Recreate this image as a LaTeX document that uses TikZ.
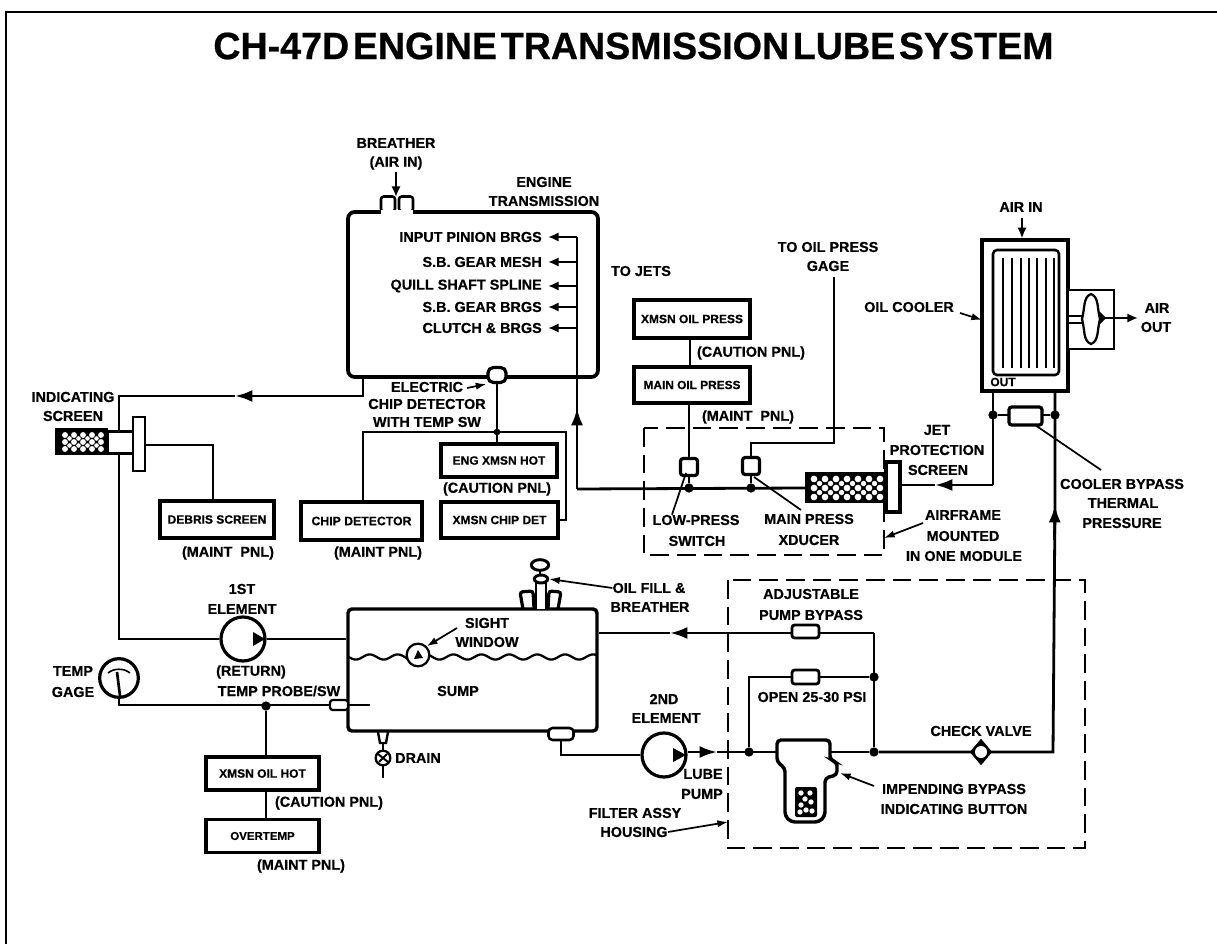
\documentclass[tikz,border=0pt]{standalone}
\usepackage{fontspec}
\setmainfont{Liberation Sans}[BoldFont={Liberation Sans Bold},BoldFeatures={FakeBold=0.5}]
\newfontfamily\titlefont{Liberation Sans Bold}[WordSpace=0.35,FakeBold=0.6]
\usetikzlibrary{arrows.meta,calc,shapes.geometric}
\tikzset{
  wh/.style 2 args={minimum width=#1*0.75pt,minimum height=#2*0.75pt},
  lbl/.style={font=\bfseries\fontsize{10.8}{12}\selectfont,inner sep=0pt,align=center},
  panel/.style={draw=black,line width=2.4pt,fill=white,inner sep=0pt},
  pipe/.style={draw=black,line width=2.1pt},
  thin pipe/.style={draw=black,line width=1.6pt},
  flow/.style={pipe,-{Latex[length=13pt,width=9pt]}},
  small flow/.style={thin pipe,-{Latex[length=8pt,width=7pt]}},
  leader/.style={draw=black,line width=1.3pt,-{Latex[length=8pt,width=5.5pt]}},
  dashbox/.style={draw=black,line width=1.7pt,dash pattern=on 14pt off 6pt},
  junction/.style={circle,fill=black,inner sep=0pt,minimum size=7pt},
  valve/.style={draw=black,line width=2.1pt,fill=white,rounded corners=2pt,inner sep=0pt},
  pumpc/.style={circle,draw=black,line width=2.4pt,fill=white,inner sep=0pt,minimum size=33pt},
}
\begin{document}
\begin{tikzpicture}[x=0.75pt,y=-0.75pt]
\useasboundingbox (0,0) rectangle (1217,944);
% frame
\coordinate (fb) at (6,944);
\coordinate (ft) at (6,12);
\coordinate (fr) at (1217,12);
\draw[draw=black,line width=2pt] (fb) -- (ft) -- (fr);
\node[inner sep=0pt] (title) at (633.5,46) {\scalebox{0.99}[1]{\titlefont\fontsize{28.5}{30}\selectfont CH-47D ENGINE TRANSMISSION LUBE SYSTEM}};

% ---------- engine transmission
\node[draw=black,line width=2.8pt,rounded corners=5pt,wh={250}{165},inner sep=0pt] (trans) at (473,294.5) {};
\node[draw=black,line width=1.9pt,fill=white,rounded corners=2pt,wh={14}{15},inner sep=0pt] (nubL) at (388,204) {};
\node[draw=black,line width=1.9pt,fill=white,rounded corners=2pt,wh={14}{15},inner sep=0pt] (nubR) at (406,204) {};
\fill[white] (381,210) rectangle (413,214);
\draw[thin pipe] (nubL.south west) -- ++(-2,0) (nubR.south east) -- ++(2,0);
\node[lbl] (breather) at (396,143) {BREATHER};
\node[lbl] (airin1) at (396,163) {(AIR IN)};
\coordinate (brin) at (396,172);
\draw[small flow] (brin) -- (396,197);
\node[lbl] (eng) at (544,182) {ENGINE};
\node[lbl] (tra) at (544,201) {TRANSMISSION};
\node[lbl,anchor=east] (l1) at (542,237) {INPUT PINION BRGS};
\node[lbl,anchor=east] (l2) at (542,262) {S.B. GEAR MESH};
\node[lbl,anchor=east] (l3) at (542,286) {QUILL SHAFT SPLINE};
\node[lbl,anchor=east] (l4) at (542,307) {S.B. GEAR BRGS};
\node[lbl,anchor=east] (l5) at (542,328) {CLUTCH \& BRGS};
\coordinate (dtop) at (577,237);
\coordinate (dbot) at (577,489);
\draw[pipe] (dtop) -- (dbot);
\foreach \yy/\n in {237/l1,262/l2,286/l3,307/l4,328/l5}
  \draw[small flow] (577,\yy) -- ([xshift=4.5pt]\n.east);
\coordinate (dup) at (577,408);
\draw[flow] (577,440) -- (dup);
\node[lbl] (tojets) at (641,271) {TO JETS};

% ---------- chip detector
\node[valve,wh={18}{15},rounded corners=4pt,line width=2.4pt] (chip) at (497,375) {};
\coordinate (cj) at (497,432);
\node[panel,wh={114}{37},font=\bfseries\fontsize{9}{9}\selectfont] (debris) at (217,519.5) {DEBRIS SCREEN};
\node[panel,wh={121}{38},font=\bfseries\fontsize{9.2}{9}\selectfont] (chipd) at (361.5,521) {CHIP DETECTOR};
\node[panel,wh={117}{36},font=\bfseries\fontsize{9}{9}\selectfont] (xchip) at (499.5,520) {XMSN CHIP DET};
\node[panel,wh={116}{33},font=\bfseries\fontsize{9}{9}\selectfont] (enghot) at (499,460.5) {ENG XMSN HOT};
\draw[pipe] (chip.south) -- (chip.south |- enghot.north);
\node[junction,minimum size=5pt] (cjd) at (cj) {};
\draw[thin pipe] (chipd.north -| 363,0) |- (566,432) |- (xchip.east);
\node[lbl] (elec) at (427,387) {ELECTRIC};
\node[lbl] (cdt) at (427,404) {CHIP DETECTOR};
\node[lbl] (wts) at (427,422) {WITH TEMP SW};
\draw[leader] (467,388) -- (chip.south west);
\node[lbl] (cp1) at (497,489) {(CAUTION PNL)};
\node[lbl] (mp1) at (228,553) {(MAINT\ \ PNL)};
\node[lbl] (mp2) at (378,553) {(MAINT PNL)};

% ---------- indicating screen
\node[lbl] (ind) at (73,397) {INDICATING};
\node[lbl] (scr) at (73,416) {SCREEN};
\node[draw=black,line width=2.2pt,fill=white,wh={27}{22},inner sep=0pt] (sbody) at (121,442.5) {};
\node[draw=black,line width=2.2pt,fill=white,wh={12}{54},inner sep=0pt] (sflange) at (139,444) {};
\node[fill=black,wh={53}{27},inner sep=0pt] (smesh) at (81.5,441.5) {};
\foreach \cx in {65,74,83,92,101} \foreach \cy in {435,442,449}
  \fill[white] (\cx,\cy) circle[radius=2.2pt];
\foreach \cx in {69.5,78.5,87.5,96.5} \foreach \cy in {438.5,445.5}
  \fill[white] (\cx,\cy) circle[radius=1.7pt];
\coordinate (tbot) at (363,377);
\coordinate (iarr) at (235,396);
\draw[flow] (tbot) |- (iarr);
\draw[pipe] (iarr) -| (sbody.north -| 119,0);
\draw[thin pipe] (sflange.east |- 0,445) -| (debris.north -| 213,0);
\node[pumpc] (pump1) at (243,639) {};
\fill (pump1.center) ++(10,-7) -- ++(12,7) -- ++(-12,7) -- cycle;
\draw[pipe] (sbody.south -| 119,0) |- (pump1.west);

% ---------- sump
\node[draw=black,line width=2.6pt,rounded corners=3pt,wh={249}{122},inner sep=0pt] (sump) at (472.5,670) {};
\draw[pipe] (pump1.east) -- (sump.west |- pump1.east);
\draw[line width=1.7pt,domain=348:597,samples=120,smooth] plot (\x,{657-2.6*sin(\x*12.9)});
\node[lbl] (sumpt) at (458,691) {SUMP};
\node[lbl] (sw1) at (487,623) {SIGHT};
\node[lbl] (sw2) at (487,642) {WINDOW};
\node[circle,draw=black,line width=1.7pt,fill=white,minimum size=17pt,inner sep=0pt] (win) at (418,655) {};
\fill (414,659) -- (418,650) -- (423,658) -- cycle;
\draw[leader] (457,628) -- (win.north east);
% oil fill
\node[ellipse,draw=black,line width=2.2pt,fill=white,minimum width=13pt,minimum height=8pt,inner sep=0pt] (knob) at (540,565) {};
\draw[line width=2pt] (540,569) -- (540,575);
\draw[line width=2.4pt,rounded corners=2pt] (523,609) -- (520,592) -- (533,591) -- (534,609);
\draw[line width=2.4pt,rounded corners=2pt] (548,609) -- (549,591) -- (561,592) -- (558,609);
\draw[line width=2pt,fill=white] (536,609) -- (536,583) -- (546,583) -- (546,609);
\node[ellipse,draw=black,line width=2.2pt,fill=white,minimum width=10pt,minimum height=6pt,inner sep=0pt] (cap) at (541,579) {};
\node[lbl] (of1) at (649,588) {OIL FILL \&};
\node[lbl] (of2) at (650,607) {BREATHER};
\draw[leader] (of1.west) -- (cap.east);
% drain
\node[circle,draw=black,line width=1.7pt,fill=white,minimum size=11pt,inner sep=0pt] (drainv) at (383,758) {};
\draw[line width=1.5pt] (378,754) -- (388,762) (379,762) -- (387,754);
\coordinate (drn) at (383,778);
\draw[line width=1.8pt] (378,732) -- (380,743) -- (386,743) -- (388,732);
\draw[thin pipe] (383,743) -- (drainv.north) (drainv.south) -- (drn);
\node[lbl] (drain) at (418,758) {DRAIN};
% outlet
\node[draw=black,line width=1.9pt,fill=white,rounded corners=3pt,wh={25}{12},inner sep=0pt] (outlet) at (561,734) {};
\node[pumpc] (pump2) at (664,755) {};
\fill (pump2.center) ++(9,-7) -- ++(13,7) -- ++(-13,7) -- cycle;
\draw[pipe] (outlet.south) |- (pump2.west);
\node[lbl] (e1a) at (242,589) {1ST};
\node[lbl] (e1b) at (242,609) {ELEMENT};
\node[lbl] (ret) at (251,672) {(RETURN)};
\node[lbl] (tps) at (279,691) {TEMP PROBE/SW};
\node[lbl] (e2a) at (664,699) {2ND};
\node[lbl] (e2b) at (666,718) {ELEMENT};
\node[lbl] (lube) at (703,774) {LUBE};
\node[lbl] (lpump) at (702,794) {PUMP};

% ---------- temp gage
\node[lbl] (tg1) at (73,671) {TEMP};
\node[lbl] (tg2) at (73,692) {GAGE};
\node[circle,draw=black,line width=2.4pt,fill=white,minimum size=29pt,inner sep=0pt] (gage) at (119,678) {};
\draw[line width=1.2pt] (108,673) .. controls (114,668) and (124,668) .. (130,673);
\draw[line width=2pt] (117,672) -- (120,696);
\node[draw=black,line width=1.7pt,fill=white,rounded corners=2pt,wh={18}{10},inner sep=0pt] (probe) at (339,705) {};
\coordinate (ptip) at (370,705);
\draw[thin pipe] (probe.east) -- (ptip);
\draw[pipe] (gage.south) |- (probe.west);
\node[junction] (tj) at (266,706) {};
\node[panel,wh={113}{33},font=\bfseries\fontsize{9}{9}\selectfont] (xoh) at (262.5,773.5) {XMSN OIL HOT};
\node[panel,wh={113}{33},font=\bfseries\fontsize{8.6}{8}\selectfont] (otm) at (262.5,836) {OVERTEMP};
\draw[thin pipe] (tj) -- (xoh.north -| tj);
\draw[thin pipe] (xoh.south -| tj) -- (otm.north -| tj);
\node[lbl] (cp3) at (329,803) {(CAUTION PNL)};
\node[lbl] (mp3) at (301,866) {(MAINT PNL)};

% ---------- press switches
\node[panel,wh={116}{38},font=\bfseries\fontsize{9}{9}\selectfont] (xop) at (692,319) {XMSN OIL PRESS};
\node[panel,wh={116}{36},font=\bfseries\fontsize{8.9}{9}\selectfont] (mop) at (692,385) {MAIN OIL PRESS};
\draw[thin pipe] (xop.south -| 690,0) -- (mop.north -| 690,0);
\node[lbl] (cp2) at (751,353) {(CAUTION PNL)};
\node[lbl] (mp4) at (748,417) {(MAINT\ \ PNL)};
\draw[dashbox] (644,428) rectangle (884,555);
\node[lbl] (gg1) at (828,247) {TO OIL PRESS};
\node[lbl] (gg2) at (828,266) {GAGE};
\coordinate (ggtop) at (834,277);
\node[valve,wh={17}{17},line width=2.4pt] (sw) at (689,467) {};
\node[valve,wh={17}{17},line width=2.4pt] (mx) at (751,466) {};
\node[junction] (swd) at (689,488) {};
\node[junction] (mxd) at (751,488) {};
\draw[thin pipe] (mop.south -| sw) -- (sw.north);
\draw[thin pipe] (ggtop) |- (751,443) -- (mx.north);
\draw[line width=1.8pt] (sw.south) -- (swd) (mx.south) -- (mxd);
\draw[pipe] (dbot) -- (805,488);
\node[lbl] (lp1) at (696,520) {LOW-PRESS};
\node[lbl] (lp2) at (697,541) {SWITCH};
\node[lbl] (mx1) at (809,519) {MAIN PRESS};
\node[lbl] (mx2) at (809,540) {XDUCER};
\draw[line width=1.3pt] (lp1.north -| 672,0) -- (686,473);
\draw[line width=1.3pt] (801,510) -- (754,477);
% jet screen
\node[fill=black,wh={82}{31},inner sep=0pt] (jmesh) at (846,487.5) {};
\foreach \cx in {814,825,836,847,858,869,880} \foreach \cy in {479,488,497}
  \fill[white] (\cx,\cy) circle[radius=2.5pt];
\foreach \cx in {819.5,830.5,841.5,852.5,863.5,874.5} \foreach \cy in {483.5,492.5}
  \fill[white] (\cx,\cy) circle[radius=2pt];
\node[draw=black,line width=2.4pt,fill=white,wh={14}{50},inner sep=0pt] (jflange) at (893,487) {};
\node[lbl] (jp1) at (937,430) {JET};
\node[lbl] (jp2) at (937,450) {PROTECTION};
\node[lbl] (jp3) at (938,470) {SCREEN};
\coordinate (jc) at (993,485);
\coordinate (jarr) at (935,485);
\draw[flow] (jc) -- (jarr);
\draw[pipe] (jarr) -- (jflange.east |- jarr);
\node[lbl] (af1) at (963,515) {AIRFRAME};
\node[lbl] (af2) at (963,536) {MOUNTED};
\node[lbl] (af3) at (964,556) {IN ONE MODULE};
\draw[leader] (923,523) -- (884,538);

% ---------- oil cooler
\node[lbl] (airin2) at (1021,207) {AIR IN};
\node[draw=black,line width=2.4pt,fill=white,wh={86}{151},inner sep=0pt] (cooler) at (1025,315.5) {};
\draw[small flow] (1022,218) -- (cooler.north -| 1022,0);
\node[draw=black,line width=1.9pt,rounded corners=3pt,wh={66}{125},inner sep=0pt] (core) at (1026,312.5) {};
\foreach \fx in {1003,1012,1021,1029,1037,1046,1054}
  \draw[line width=1.5pt] (\fx,258) -- (\fx,368);
\node[lbl,font=\bfseries\fontsize{9}{10}\selectfont] (outl) at (1003,382) {OUT};
\node[draw=black,line width=2.2pt,fill=white,wh={46}{59},inner sep=0pt] (fanb) at (1091,319.5) {};
\draw[line width=1.7pt] (1068,316) -- (1083,316) (1068,323) -- (1083,323);
\draw[line width=1.7pt,fill=white] (1091,294) .. controls (1083,297) and (1085,308) .. (1082,319) .. controls (1085,330) and (1083,341) .. (1091,344) .. controls (1099,341) and (1097,330) .. (1100,319) .. controls (1097,308) and (1099,297) .. (1091,294) -- cycle;
\coordinate (fanhub) at (1104,318);
\fill (1100,312) -- (1106,318) -- (1100,324) -- cycle;
\draw[small flow] (fanhub) -- (1138,318);
\node[lbl] (ao1) at (1157,308) {AIR};
\node[lbl] (ao2) at (1156,327) {OUT};
\node[lbl] (oc) at (909,307) {OIL COOLER};
\draw[leader] (960,313) -- (982,320);
\coordinate (cl) at (993,391);
\coordinate (cr) at (1055,391);
\node[junction] (cld) at (993,415) {};
\node[junction] (crd) at (1055,415) {};
\draw[pipe] (cl) -- (jc);
\draw[pipe] (cld) -- (crd);
\node[valve,wh={33}{18},line width=2.4pt] (cbv) at (1025.5,416) {};
\node[lbl] (cb1) at (1122,484) {COOLER BYPASS};
\node[lbl] (cb2) at (1123,503) {THERMAL};
\node[lbl] (cb3) at (1122,523) {PRESSURE};
\draw[line width=1.3pt] (1101,470) -- (1035,425);

% ---------- filter assembly
\draw[dashbox] (728,580) rectangle (1085,848);
\coordinate (rl) at (874,633);
\coordinate (ret2) at (670,633);
\draw[flow] (rl) -- (ret2);
\draw[pipe] (ret2) -- (sump.east |- ret2);
\coordinate (opl) at (749,677);
\node[junction] (opj) at (874,677) {};
\node[junction] (mj1) at (749,752) {};
\node[junction] (mj2) at (874,752) {};
\draw[pipe] (rl) -- (mj2);
\draw[pipe] (mj1) |- (opj);
\node[valve,wh={27}{13}] (adj) at (805.5,631.5) {};
\node[valve,wh={27}{14}] (opn) at (805.5,677) {};
\node[lbl] (ad1) at (811,594) {ADJUSTABLE};
\node[lbl] (ad2) at (811,615) {PUMP BYPASS};
\node[lbl] (op1) at (812,697) {OPEN 25-30 PSI};
% main line
\coordinate (marr) at (717,752);
\draw[flow] (pump2.east |- marr) -- (marr);
\draw[pipe] (marr) -- (mj2);
% filter body
\draw[line width=2.6pt,fill=white,rounded corners=3pt] (777,740) -- (830,740) -- (830,760) -- (837,762) -- (837,775) -- (825,778) -- (825,816) -- (819,822) -- (791,822) -- (785,816) -- (785,768) -- (777,762) -- cycle;
\node[fill=black,rounded corners=1.5pt,wh={22}{30},inner sep=0pt] (fmesh) at (806,802) {};
\foreach \cx/\cy in {801/793,810/793,805/799,811/802,801/805,806/810,812/811,800/812}
  \fill[white] (\cx,\cy) circle[radius=2pt];
\node[lbl] (ib1) at (954,789) {IMPENDING BYPASS};
\node[lbl] (ib2) at (954,809) {INDICATING BUTTON};
\draw[leader] (874,786) -- (840,773);
% check valve
\coordinate (rb) at (1053,752);
\coordinate (ru) at (1055,505);
\draw[pipe] (mj2) -- (rb) -- (ru) -- (cr);
\draw[flow] (1054.5,540) -- (ru);
\node[diamond,fill=black,minimum width=17pt,minimum height=20pt,inner sep=0pt] (cv) at (981,752) {};
\fill[white] (cv) circle[radius=4.5pt];
\node[lbl] (cvl) at (981,731) {CHECK VALVE};
\node[lbl] (fa1) at (635,813) {FILTER ASSY};
\node[lbl] (fa2) at (634,832) {HOUSING};
\draw[leader] (fa2.east) -- (728,822);
\end{tikzpicture}
\end{document}
